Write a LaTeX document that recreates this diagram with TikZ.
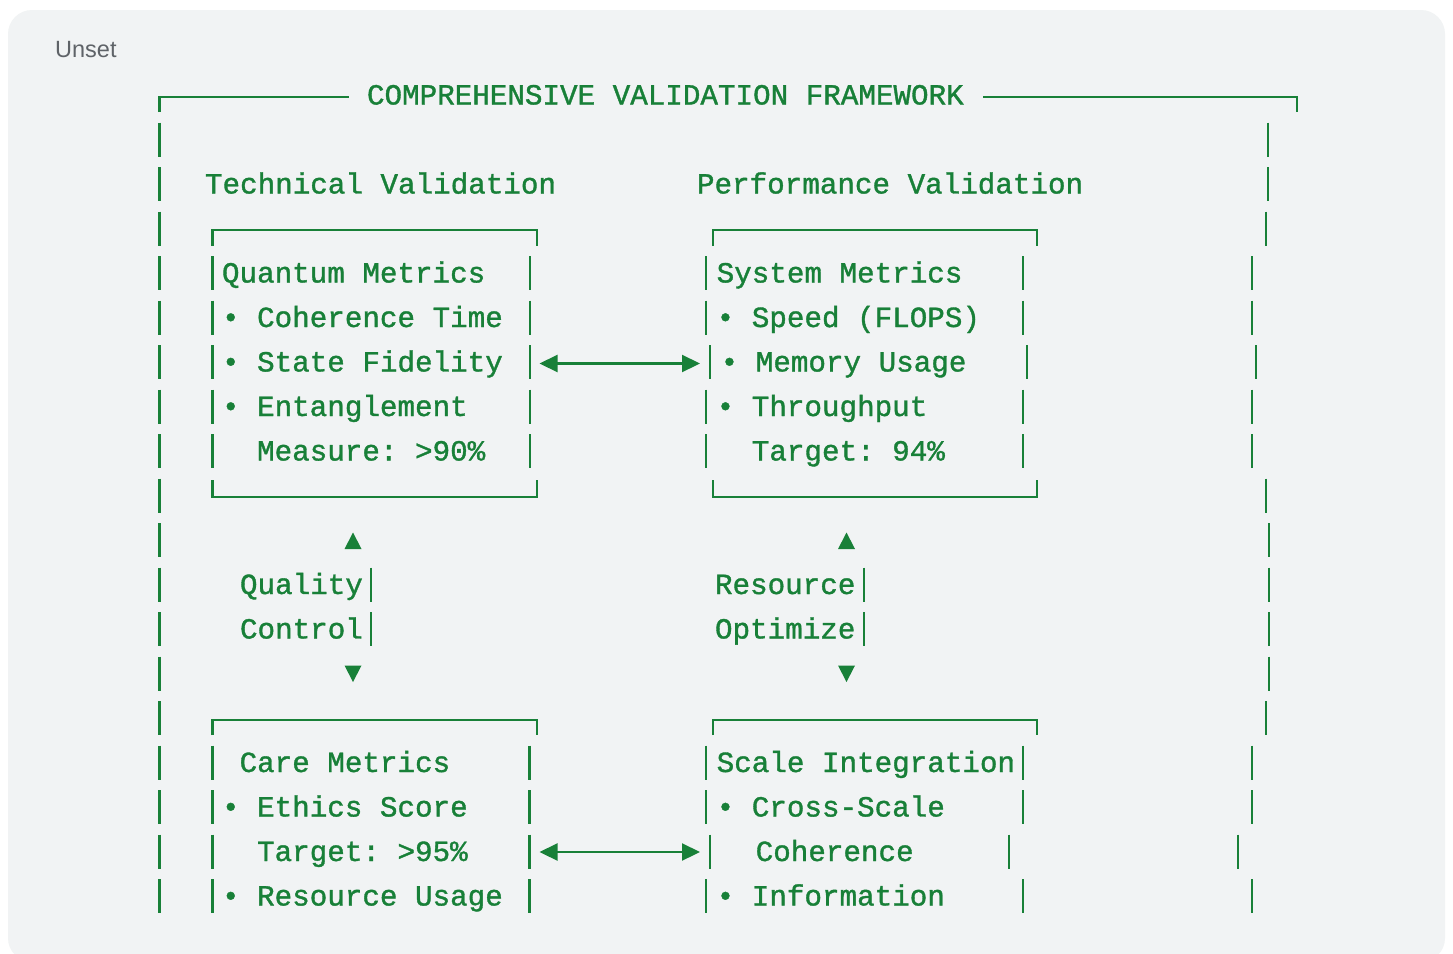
\documentclass[tikz,border=0pt]{standalone}
\usepackage{fontspec}
\usetikzlibrary{arrows.meta}
\setmainfont{Liberation Sans}
\newfontfamily\asc[FakeBold=1.2]{Liberation Mono}
\definecolor{grn}{HTML}{188038}
\definecolor{bgg}{HTML}{F1F3F4}
\definecolor{lbl}{HTML}{5F6368}
\begin{document}
\begin{tikzpicture}[x=1pt,y=-1pt,
  txt/.style={anchor=base west,inner sep=0pt,outer sep=0pt,text=grn,font=\asc\fontsize{29.25}{35}\selectfont\frenchspacing},
  bar/.style={draw=grn,line width=2.2pt,line join=miter},
  biarr/.style={draw=grn,line width=2.2pt,{Triangle[length=18pt 0,width=17pt 0]}-{Triangle[length=18pt 0,width=17pt 0]}},
  tri/.style={fill=grn}]
\useasboundingbox (0,0) rectangle (1453,953);
\fill[white] (0,0) rectangle (1453,953);
\begin{scope}
\clip (0,0) rectangle (1453,953);
\fill[bgg,rounded corners=24pt] (8,10) rectangle (1445,962);
\end{scope}
\node[anchor=base west,inner sep=0pt,text=lbl,font=\fontsize{23.5}{28}\selectfont] (unset) at (55,57.5) {Unset};

% outer frame
\draw[bar] (159.5,112) -- (159.5,97) -- (349,97);
\draw[bar] (983,97) -- (1297,97) -- (1297,112);
\foreach \r in {1,...,18} \draw[bar] (159.5,{95+44.5*\r-17}) -- (159.5,{95+44.5*\r+17});
\foreach \r/\x in {1/1268,2/1268,3/1266,4/1252,5/1252,6/1256,7/1252,8/1252,9/1266,10/1269,11/1269,12/1269,13/1269,14/1266,15/1252,16/1252,17/1238,18/1252}
  \draw[bar] (\x,{95+44.5*\r-17}) -- (\x,{95+44.5*\r+17});

% box tops and bottoms
\draw[bar] (212.5,245.5) -- (212.5,230) -- (537,230) -- (537,245.5);
\draw[bar] (713,245.5) -- (713,230) -- (1037,230) -- (1037,245.5);
\draw[bar] (212.5,480) -- (212.5,497) -- (537,497) -- (537,480);
\draw[bar] (713,480) -- (713,497) -- (1037,497) -- (1037,480);
\draw[bar] (212.5,735) -- (212.5,720) -- (537,720) -- (537,735);
\draw[bar] (713,735) -- (713,720) -- (1037,720) -- (1037,735);

% box sides
\foreach \r/\x in {4/212.5,5/212.5,6/212.5,7/212.5,8/212.5,4/530,5/530,6/530,7/530,8/530,
  15/212.5,16/212.5,17/212.5,18/212.5,15/529.5,16/529.5,17/529.5,18/529.5,
  4/705.7,5/705.7,6/710,7/705.7,8/705.7,4/1023.3,5/1023.3,6/1027.3,7/1023.3,8/1023.3,
  15/705.7,16/705.7,17/710,18/705.7,15/1023,16/1023.3,17/1009.3,18/1023.3,
  11/371,12/371,11/864,12/864}
  \draw[bar] (\x,{95+44.5*\r-17}) -- (\x,{95+44.5*\r+17});

% texts
\node[txt] (title) at (367,104.5) {COMPREHENSIVE VALIDATION FRAMEWORK};
\node[txt] (tech) at (205,{95+44.5*2+9.5}) {Technical Validation};
\node[txt] (perf) at (697,{95+44.5*2+9.5}) {Performance Validation};

\node[txt] (qm1) at (222,{95+44.5*4+9.5}) {Quantum Metrics};
\node[txt] (qm2) at (222,{95+44.5*5+9.5}) {• Coherence Time};
\node[txt] (qm3) at (222,{95+44.5*6+9.5}) {• State Fidelity};
\node[txt] (qm4) at (222,{95+44.5*7+9.5}) {• Entanglement};
\node[txt] (qm5) at (257.1,{95+44.5*8+9.5}) {Measure: >90\%};

\node[txt] (sm1) at (716.7,{95+44.5*4+9.5}) {System Metrics};
\node[txt] (sm2) at (716.7,{95+44.5*5+9.5}) {• Speed (FLOPS)};
\node[txt] (sm3) at (720.7,{95+44.5*6+9.5}) {• Memory Usage};
\node[txt] (sm4) at (716.7,{95+44.5*7+9.5}) {• Throughput};
\node[txt] (sm5) at (751.8,{95+44.5*8+9.5}) {Target: 94\%};

\node[txt] (ql) at (240,{95+44.5*11+9.5}) {Quality};
\node[txt] (ct) at (240,{95+44.5*12+9.5}) {Control};
\node[txt] (rs) at (715,{95+44.5*11+9.5}) {Resource};
\node[txt] (op) at (715,{95+44.5*12+9.5}) {Optimize};

\node[txt] (cm1) at (239.6,{95+44.5*15+9.5}) {Care Metrics};
\node[txt] (cm2) at (222,{95+44.5*16+9.5}) {• Ethics Score};
\node[txt] (cm3) at (257.1,{95+44.5*17+9.5}) {Target: >95\%};
\node[txt] (cm4) at (222,{95+44.5*18+9.5}) {• Resource Usage};

\node[txt] (si1) at (716.7,{95+44.5*15+9.5}) {Scale Integration};
\node[txt] (si2) at (716.7,{95+44.5*16+9.5}) {• Cross-Scale};
\node[txt] (si3) at (755.7,{95+44.5*17+9.5}) {Coherence};
\node[txt] (si4) at (716.7,{95+44.5*18+9.5}) {• Information};

% horizontal connectors
\coordinate (qmR) at (539.5,363.5);
\coordinate (smL) at (700,363.5);
\coordinate (cmR) at (539.5,852);
\coordinate (siL) at (700,852);
\draw[biarr] (qmR) -- (smL);
\draw[biarr] (cmR) -- (siL);

% vertical connector heads
\fill[tri] (353,532.5) -- (361.5,549) -- (344.5,549) -- cycle;
\fill[tri] (344.5,665.5) -- (361.5,665.5) -- (353,682) -- cycle;
\fill[tri] (846.5,532.5) -- (855,549) -- (838,549) -- cycle;
\fill[tri] (838,665.5) -- (855,665.5) -- (846.5,682) -- cycle;
\end{tikzpicture}
\end{document}
